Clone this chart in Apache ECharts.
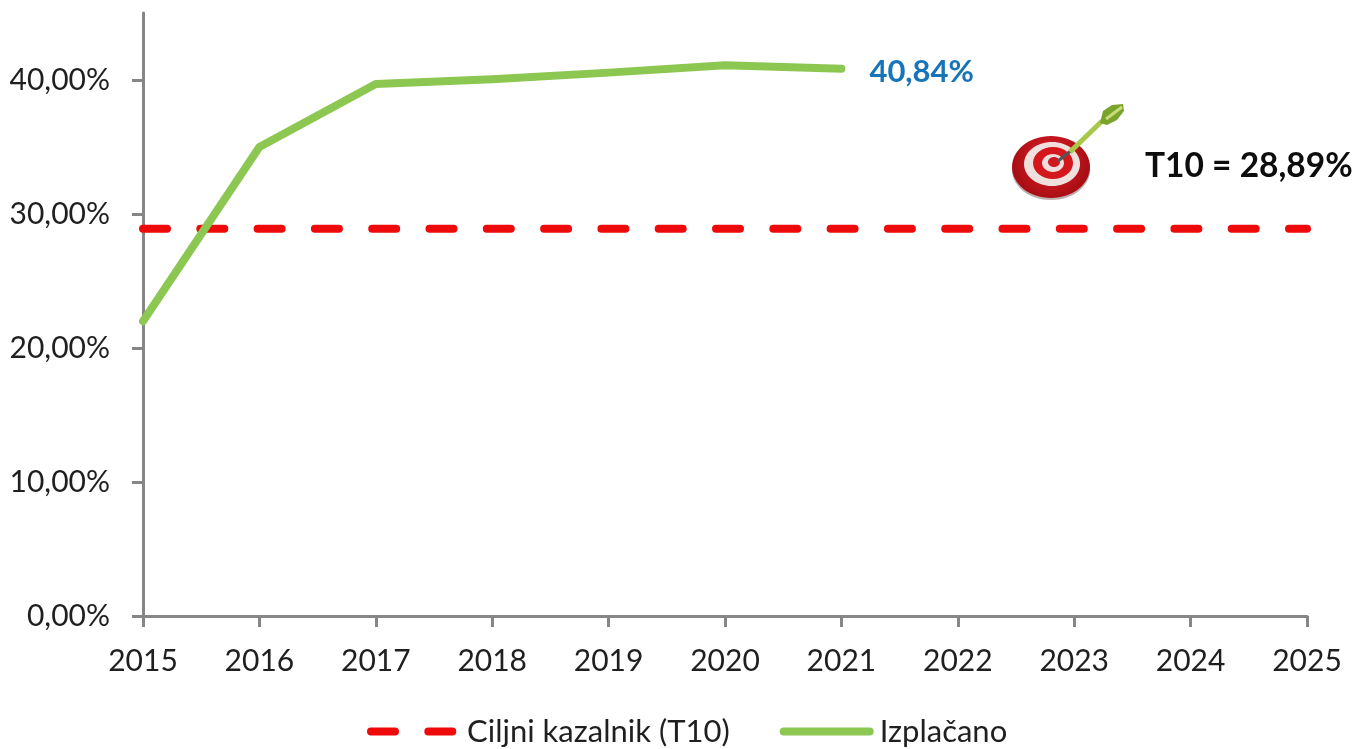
<!DOCTYPE html>
<html><head><meta charset="utf-8">
<style>html,body{margin:0;padding:0;background:#fff}#c{width:1357px;height:749px}</style>
<script src="https://cdn.jsdelivr.net/npm/echarts@6/dist/echarts.min.js"></script>
</head><body><div id="c"></div>
<script>
const years = ['2015','2016','2017','2018','2019','2020','2021','2022','2023','2024','2025'];
const targetValues = [28.89,28.89,28.89,28.89,28.89,28.89,28.89,28.89,28.89,28.89,28.89];
const paidValues = [22.0,35.0,39.7,40.05,40.55,41.1,40.84,null,null,null,null];
const yTicks = [0,10,20,30,40];
const targetName = 'Ciljni kazalnik (T10)';
const paidName = 'Izplačano';
const paidLabel = '40,84%';
const targetLabel = 'T10 = 28,89%';
const FONT = 'Lato, "Open Sans", sans-serif';
const axisGrey = '#868686';
const chart = echarts.init(document.getElementById('c'), null, {renderer:'canvas'});
const fmtPct = v => v.toFixed(2).replace('.', ',') + '%';
chart.setOption({
  animation:false,
  backgroundColor:'#fff',
  textStyle:{fontFamily:FONT},
  grid:{left:143,right:50,top:13,bottom:133,containLabel:false},
  xAxis:{type:'category',data:years,boundaryGap:false,
    axisLine:{show:true,onZero:false,lineStyle:{color:axisGrey,width:3}},
    axisTick:{show:true,alignWithLabel:true,length:11,lineStyle:{color:axisGrey,width:3}},
    axisLabel:{color:'#1f1f1f',fontSize:30,fontFamily:FONT,margin:30,interval:0,showMinLabel:true,showMaxLabel:true},
    splitLine:{show:false}},
  yAxis:{type:'value',min:0,max:45,interval:5,
    axisLine:{show:true,lineStyle:{color:axisGrey,width:3}},
    axisTick:{show:true,length:11,customValues:yTicks,lineStyle:{color:axisGrey,width:3}},
    axisLabel:{color:'#1f1f1f',fontSize:30,fontFamily:FONT,margin:33,customValues:yTicks,formatter:fmtPct},
    splitLine:{show:false}},
  legend:{show:true,top:711,left:362,itemGap:50,itemHeight:14,itemWidth:86,
    itemStyle:{opacity:0},
    textStyle:{color:'#1f1f1f',fontSize:31,fontFamily:FONT,padding:[0,0,0,5]},
    data:[
      {name:targetName,lineStyle:{width:8,type:[24,33.3],cap:'round',color:'#ee0a0a'}},
      {name:paidName,lineStyle:{width:8,type:'solid',cap:'round',color:'#8cc752'}}
    ]},
  series:[
    {name:targetName,type:'line',data:targetValues,symbol:'none',silent:true,z:2,
      color:'#ee0a0a',
      lineStyle:{color:'#ee0a0a',width:8,type:[24,33.3],cap:'round'}},
    {name:paidName,type:'line',data:paidValues,
      symbol:'none',connectNulls:false,silent:true,z:3,color:'#8cc752',
      lineStyle:{color:'#8cc752',width:8,cap:'round',join:'round'},
      endLabel:{show:true,formatter:paidLabel,distance:28,offset:[0,3],color:'#1874b8',fontSize:31,fontWeight:'bold',fontFamily:FONT}}
  ],
  graphic:[
    {type:'group',left:1012,top:104,silent:true,children:[
      {type:'ellipse',shape:{cx:43,cy:71,rx:39,ry:30},style:{fill:'#b9b0ae'}},
      {type:'ellipse',shape:{cx:43,cy:68,rx:39,ry:31},style:{fill:{type:'radial',x:0.5,y:0.4,r:0.6,colorStops:[{offset:0,color:'#e8232b'},{offset:1,color:'#a90e14'}]}}},
      {type:'ellipse',shape:{cx:44,cy:65,rx:28,ry:22},style:{fill:'#efe0de'}},
      {type:'ellipse',shape:{cx:45,cy:64,rx:20,ry:16},style:{fill:'#d4161d'}},
      {type:'ellipse',shape:{cx:45,cy:64,rx:11,ry:9},style:{fill:'#f0dedc'}},
      {type:'ellipse',shape:{cx:46,cy:63,rx:6,ry:5},style:{fill:'#cc1a20'}},
      {type:'line',shape:{x1:50,y1:62,x2:64,y2:51},style:{stroke:'#555',lineWidth:3}},
      {type:'line',shape:{x1:62,y1:53,x2:94,y2:22},style:{stroke:'#a8c84a',lineWidth:5}},
      {type:'polygon',shape:{points:[[92,24],[95,12],[104,6],[115,5],[116,12],[109,21],[99,26]]},style:{fill:'#7aa32c'}},
      {type:'line',shape:{x1:98,y1:20,x2:114,y2:8},style:{stroke:'#c9dc7a',lineWidth:3}}
    ]},
    {type:'text',left:1145,top:149,silent:true,style:{text:targetLabel,fill:'#0d0d0d',fontSize:33.5,fontWeight:'bold',fontFamily:FONT}}
  ]
});
</script></body></html>
